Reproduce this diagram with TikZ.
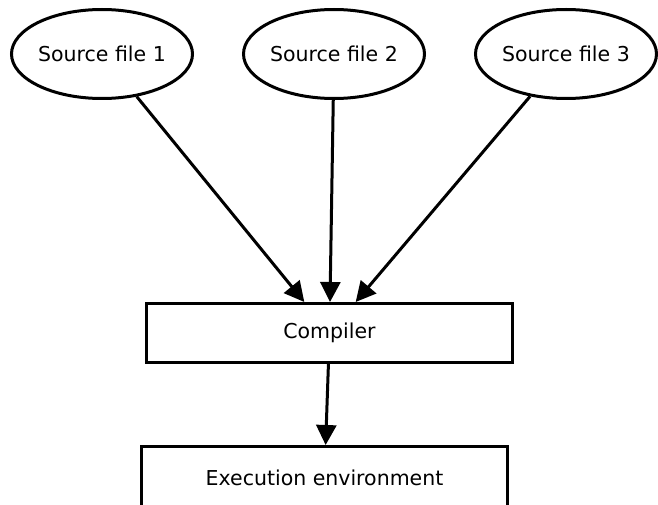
\documentclass[tikz,border=0pt]{standalone}
\usepackage{fontspec}
\setmainfont{DejaVu Sans}
\usetikzlibrary{arrows.meta,shapes.geometric}
\tikzset{
  src/.style={draw,ellipse,line width=3pt,minimum width=181pt,minimum height=89pt,inner sep=0pt},
  stage/.style={draw,rectangle,line width=3pt,minimum width=366pt,minimum height=59pt,inner sep=0pt},
  flow/.style={line width=3pt,-{Triangle[length=20pt,width=20pt]}}
}
\begin{document}
\begin{tikzpicture}[x=1pt,y=-1pt,font=\fontsize{20.5}{24}\selectfont]
  \useasboundingbox (0,0) rectangle (658,505);
  \node[src] (src1) at (102,54) {Source file 1};
  \node[src] (src2) at (334,54) {Source file 2};
  \node[src] (src3) at (566,54) {Source file 3};
  \node[stage] (comp) at (329.5,333) {Compiler};
  \node[stage,minimum height=62pt] (exec) at (324.5,477.5) {Execution environment};
  \draw[flow] (src1) -- (comp);
  \draw[flow] (src2) -- (comp);
  \draw[flow] (src3) -- (comp);
  \draw[flow] (comp) -- (exec);
\end{tikzpicture}
\end{document}
